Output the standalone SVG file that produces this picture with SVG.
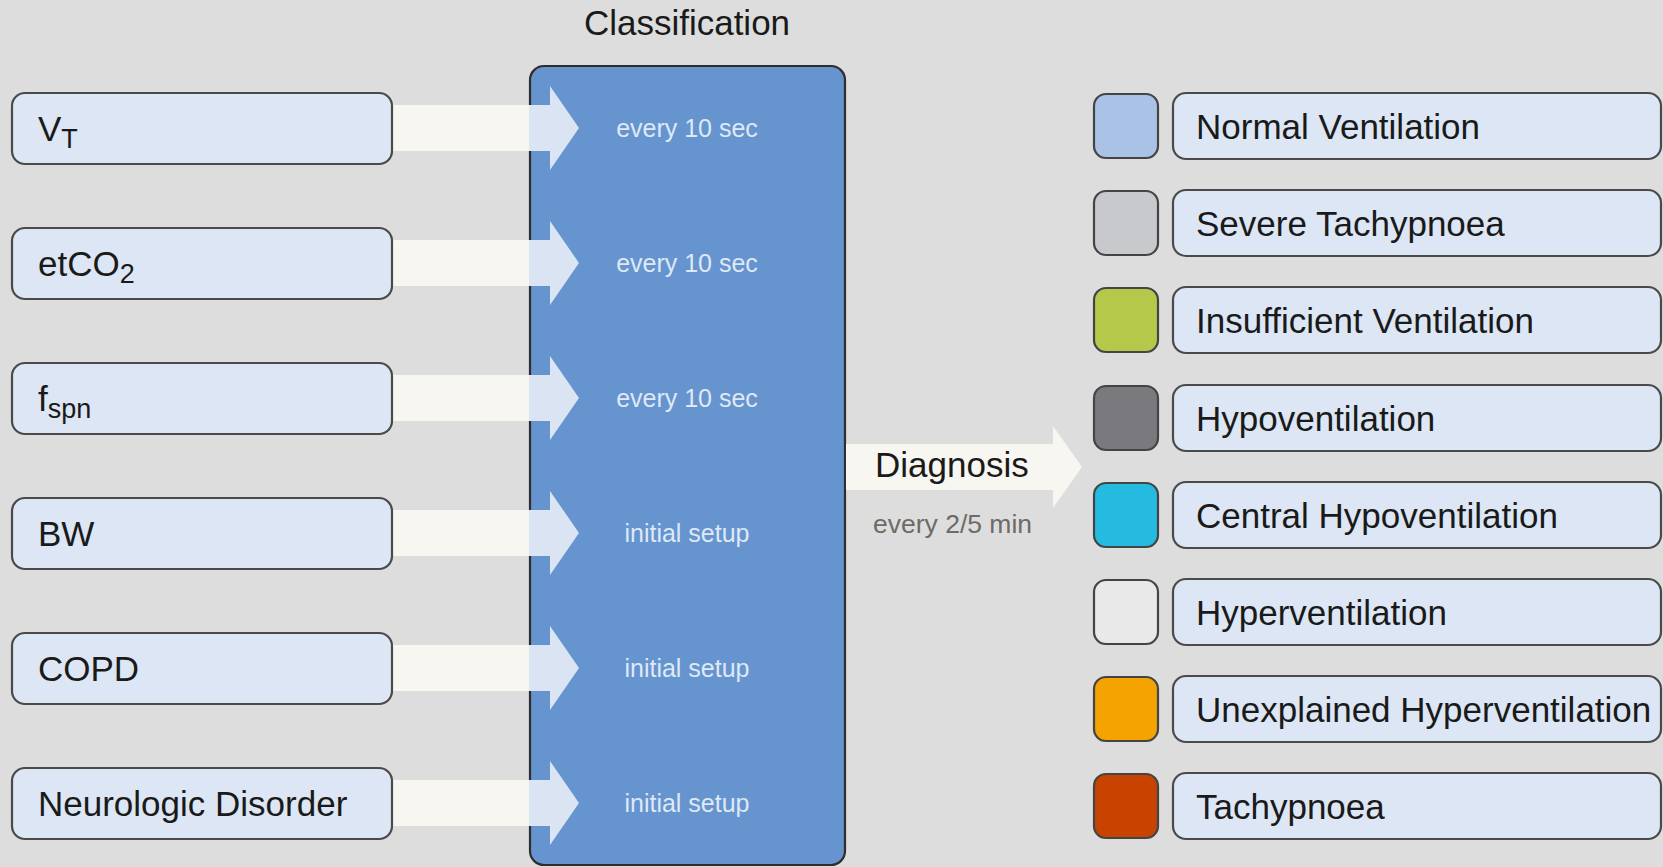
<svg xmlns="http://www.w3.org/2000/svg" width="1663" height="867" viewBox="0 0 1663 867">
<style>
.bg{fill:#dddddd}
.inp{fill:#dce6f4;stroke:#4a4a4a;stroke-width:2.2}
.lbl{font-family:"Liberation Sans",Arial,sans-serif;font-size:35px;fill:#1a1a1a}
.sub{font-size:27px}
.freq{font-family:"Liberation Sans",Arial,sans-serif;font-size:25px;fill:#dfe8f6;text-anchor:middle}
.bar{fill:#f7f6f1}
.head{fill:#dbe4f3}
.sw{stroke:#444;stroke-width:2.2}
.leg{fill:#dce6f4;stroke:#4a4a4a;stroke-width:2.2}
</style>
<rect class="bg" x="0" y="0" width="1663" height="867"/>
<text class="lbl" x="687" y="35" text-anchor="middle" font-size="33">Classification</text>

<g id="classification">
<rect x="530" y="66" width="315" height="799" rx="14" fill="#6594cf" stroke="#2e2e2e" stroke-width="2.2"/>
</g>

<g id="connectors">
<rect class="bar" x="392" y="105" width="137" height="46"/><polygon class="head" points="529,105 550,105 550,86 579,128 550,170 550,151 529,151"/>
<rect class="bar" x="392" y="240" width="137" height="46"/><polygon class="head" points="529,240 550,240 550,221 579,263 550,305 550,286 529,286"/>
<rect class="bar" x="392" y="375" width="137" height="46"/><polygon class="head" points="529,375 550,375 550,356 579,398 550,440 550,421 529,421"/>
<rect class="bar" x="392" y="510" width="137" height="46"/><polygon class="head" points="529,510 550,510 550,491 579,533 550,575 550,556 529,556"/>
<rect class="bar" x="392" y="645" width="137" height="46"/><polygon class="head" points="529,645 550,645 550,626 579,668 550,710 550,691 529,691"/>
<rect class="bar" x="392" y="780" width="137" height="46"/><polygon class="head" points="529,780 550,780 550,761 579,803 550,845 550,826 529,826"/>
<polygon class="bar" points="846,444 1053,444 1053,426 1082,467 1053,508 1053,490 846,490"/>
</g>

<g id="freq-labels">
<text class="freq" x="687" y="137">every 10 sec</text>
<text class="freq" x="687" y="272">every 10 sec</text>
<text class="freq" x="687" y="407">every 10 sec</text>
<text class="freq" x="687" y="542">initial setup</text>
<text class="freq" x="687" y="677">initial setup</text>
<text class="freq" x="687" y="812">initial setup</text>
</g>

<g id="diagnosis-label">
<text class="lbl" x="875" y="477" font-size="34">Diagnosis</text>
<text x="873" y="533" font-family="Liberation Sans,Arial,sans-serif" font-size="26.5" fill="#6e6a66">every 2/5 min</text>
</g>

<g id="in-vt"><rect class="inp" x="12" y="93" width="380" height="71" rx="13"/><text class="lbl" x="38" y="141">V<tspan class="sub" dy="7">T</tspan></text></g>
<g id="in-etco2"><rect class="inp" x="12" y="228" width="380" height="71" rx="13"/><text class="lbl" x="38" y="276">etCO<tspan class="sub" dy="7">2</tspan></text></g>
<g id="in-fspn"><rect class="inp" x="12" y="363" width="380" height="71" rx="13"/><text class="lbl" x="38" y="411">f<tspan class="sub" dy="7">spn</tspan></text></g>
<g id="in-bw"><rect class="inp" x="12" y="498" width="380" height="71" rx="13"/><text class="lbl" x="38" y="546">BW</text></g>
<g id="in-copd"><rect class="inp" x="12" y="633" width="380" height="71" rx="13"/><text class="lbl" x="38" y="681">COPD</text></g>
<g id="in-neuro"><rect class="inp" x="12" y="768" width="380" height="71" rx="13"/><text class="lbl" x="38" y="816">Neurologic Disorder</text></g>

<g id="out-normal"><rect class="sw" x="1094" y="94" width="64" height="64" rx="12" fill="#a9c2e6"/><rect class="leg" x="1173" y="93" width="488" height="66" rx="13"/><text class="lbl" x="1196" y="139">Normal Ventilation</text></g>
<g id="out-severe"><rect class="sw" x="1094" y="191" width="64" height="64" rx="12" fill="#c8c9cc"/><rect class="leg" x="1173" y="190" width="488" height="66" rx="13"/><text class="lbl" x="1196" y="236">Severe Tachypnoea</text></g>
<g id="out-insufficient"><rect class="sw" x="1094" y="288" width="64" height="64" rx="12" fill="#b5c84a"/><rect class="leg" x="1173" y="287" width="488" height="66" rx="13"/><text class="lbl" x="1196" y="333">Insufficient Ventilation</text></g>
<g id="out-hypo"><rect class="sw" x="1094" y="386" width="64" height="64" rx="12" fill="#7a797e"/><rect class="leg" x="1173" y="385" width="488" height="66" rx="13"/><text class="lbl" x="1196" y="431">Hypoventilation</text></g>
<g id="out-central"><rect class="sw" x="1094" y="483" width="64" height="64" rx="12" fill="#25badf"/><rect class="leg" x="1173" y="482" width="488" height="66" rx="13"/><text class="lbl" x="1196" y="528">Central Hypoventilation</text></g>
<g id="out-hyper"><rect class="sw" x="1094" y="580" width="64" height="64" rx="12" fill="#e9e9e9"/><rect class="leg" x="1173" y="579" width="488" height="66" rx="13"/><text class="lbl" x="1196" y="625">Hyperventilation</text></g>
<g id="out-unexplained"><rect class="sw" x="1094" y="677" width="64" height="64" rx="12" fill="#f5a300"/><rect class="leg" x="1173" y="676" width="488" height="66" rx="13"/><text class="lbl" x="1196" y="722">Unexplained Hyperventilation</text></g>
<g id="out-tachy"><rect class="sw" x="1094" y="774" width="64" height="64" rx="12" fill="#c94300"/><rect class="leg" x="1173" y="773" width="488" height="66" rx="13"/><text class="lbl" x="1196" y="819">Tachypnoea</text></g>
</svg>
